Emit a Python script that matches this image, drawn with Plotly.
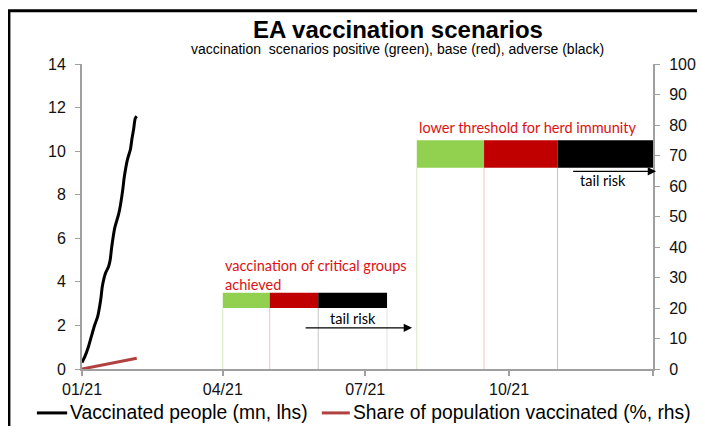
import plotly.graph_objects as go

dates = [
    "2021-01-01", "2021-01-03", "2021-01-05", "2021-01-07", "2021-01-09",
    "2021-01-11", "2021-01-13", "2021-01-14", "2021-01-16", "2021-01-18",
    "2021-01-19", "2021-01-20", "2021-01-22", "2021-01-24", "2021-01-25",
    "2021-01-27", "2021-01-28", "2021-01-30", "2021-02-01", "2021-02-02",
    "2021-02-03", "2021-02-04", "2021-02-05",
]
vaccinated_mn = [
    0.3, 0.6, 1.0, 1.5, 2.0, 2.4, 3.2, 3.8, 4.4, 4.7, 5.0, 5.6, 6.5,
    7.0, 7.3, 8.2, 8.8, 9.6, 10.1, 10.6, 11.0, 11.5, 11.6,
]
share_pct = [
    0.0, 0.2, 0.4, 0.6, 0.8, 1.0, 1.2, 1.3, 1.5, 1.7, 1.8, 1.9, 2.1,
    2.3, 2.4, 2.6, 2.7, 2.9, 3.1, 3.2, 3.3, 3.45, 3.5,
]

# scenario milestones: positive / base / adverse segments
critical_dates = ["2021-04-01", "2021-05-01", "2021-06-01", "2021-07-15"]
critical_band = [20, 25]
herd_dates = ["2021-08-03", "2021-09-15", "2021-11-01", "2022-01-01"]
herd_band = [66, 75]

tick_dates = ["2021-01-01", "2021-04-01", "2021-07-01", "2021-10-01", "2022-01-01"]
tick_labels = ["01/21", "04/21", "07/21", "10/21", ""]

series_names = ["Vaccinated people (mn, lhs)", "Share of population vaccinated (%, rhs)"]

SCENARIO_COLORS = ["#92d050", "#c00000", "#000000"]
DROP_COLORS = ["#d6ebbf", "#eec6c6", "#c4c4c4", "#e2e2e2"]
LINE_COLORS = ["#000000", "#b0413e"]
AXIS_COLOR = "#a0a0a0"
NOTE_RED = "#dd1111"
FONT = "Liberation Sans, Arial, sans-serif"
NOTE_FONT = "Lato, Open Sans, sans-serif"

fig = go.Figure()
fig.add_trace(
    go.Scatter(
        x=dates, y=vaccinated_mn, mode="lines", name=series_names[0],
        line={"color": LINE_COLORS[0], "width": 3, "shape": "spline", "smoothing": 0.6},
    )
)
fig.add_trace(
    go.Scatter(
        x=dates, y=share_pct, mode="lines", name=series_names[1],
        line={"color": LINE_COLORS[1], "width": 3}, yaxis="y2",
    )
)

shapes = []
for seg_dates, band, n_drops in ((critical_dates, critical_band, 4), (herd_dates, herd_band, 3)):
    for i in range(n_drops):
        shapes.append(dict(
            type="line", xref="x", yref="y2", x0=seg_dates[i], x1=seg_dates[i],
            y0=0, y1=band[0], line={"color": DROP_COLORS[i], "width": 1}, layer="below",
        ))
    for i in range(3):
        shapes.append(dict(
            type="rect", xref="x", yref="y2", x0=seg_dates[i], x1=seg_dates[i + 1],
            y0=band[0], y1=band[1], fillcolor=SCENARIO_COLORS[i], line={"width": 0},
        ))

# chart frame (left and top edges)
shapes.append(dict(
    type="path", xref="paper", yref="paper",
    path="M -0.128,-0.3 L -0.128,1.175 L 1.2,1.175",
    line={"color": "#000000", "width": 3},
))

# hand-drawn legend below the plot
legend_rows = [(-0.079, -0.026, -0.0245), (0.420, 0.469, 0.471)]
annotations = []
for (x0, x1, xt), name, color in zip(legend_rows, series_names, LINE_COLORS):
    shapes.append(dict(
        type="line", xref="paper", yref="paper", x0=x0, x1=x1, y0=-0.144, y1=-0.144,
        line={"color": color, "width": 3},
    ))
    annotations.append(dict(
        text=name, xref="paper", yref="paper", x=xt, y=-0.144, xanchor="left",
        yanchor="middle", showarrow=False, font={"size": 19.3, "family": FONT, "color": "#000"},
    ))

annotations += [
    dict(text="<b>EA vaccination scenarios</b>", xref="paper", yref="paper",
         x=0.553, y=1.114, xanchor="center", yanchor="middle", showarrow=False,
         font={"size": 24, "family": FONT, "color": "#000"}),
    dict(text="vaccination  scenarios positive (green), base (red), adverse (black)",
         xref="paper", yref="paper", x=0.553, y=1.048, xanchor="center", yanchor="middle",
         showarrow=False, font={"size": 14, "family": FONT, "color": "#000"}),
    dict(text="vaccination of critical groups<br>achieved", xref="x", yref="y2",
         x="2021-04-01", y=30.8, xanchor="left", yanchor="middle", align="left",
         showarrow=False, font={"size": 14.5, "family": NOTE_FONT, "color": NOTE_RED}),
    dict(text="lower threshold for herd immunity", xref="x", yref="y2",
         x="2021-08-03", y=79.3, xanchor="left", yanchor="middle", showarrow=False,
         font={"size": 14.5, "family": NOTE_FONT, "color": NOTE_RED}),
    dict(text="tail risk", xref="x", yref="y2", x="2021-06-23", y=16.4,
         showarrow=False, font={"size": 14.5, "family": NOTE_FONT, "color": "#000"}),
    dict(text="tail risk", xref="x", yref="y2", x="2021-11-30", y=61.8,
         showarrow=False, font={"size": 14.5, "family": NOTE_FONT, "color": "#000"}),
    dict(text="", xref="x", yref="y2", x="2021-07-31", y=13.5,
         axref="x", ayref="y2", ax="2021-05-23", ay=13.5, showarrow=True,
         arrowhead=2, arrowsize=1.2, arrowwidth=1.4, arrowcolor="#000"),
    dict(text="", xref="x", yref="y2", x="2022-01-03", y=64.8,
         axref="x", ayref="y2", ax="2021-11-10", ay=64.8, showarrow=True,
         arrowhead=2, arrowsize=1.2, arrowwidth=1.4, arrowcolor="#000"),
]

fig.update_layout(
    width=689,
    height=418,
    margin={"l": 74, "r": 44, "t": 56, "b": 57, "autoexpand": False},
    paper_bgcolor="#ffffff",
    plot_bgcolor="#ffffff",
    font={"family": FONT, "size": 16, "color": "#111111"},
    shapes=shapes,
    annotations=annotations,
    showlegend=False,
    xaxis={
        "type": "date", "range": ["2021-01-01", "2022-01-01"], "automargin": False,
        "tickvals": tick_dates, "ticktext": tick_labels,
        "showgrid": False, "zeroline": False, "showline": True,
        "linecolor": AXIS_COLOR, "linewidth": 2, "ticks": "outside",
        "ticklen": 5, "tickcolor": AXIS_COLOR, "tickwidth": 2,
    },
    yaxis={
        "range": [0, 14], "dtick": 2, "showgrid": False, "zeroline": False,
        "automargin": False, "showline": True, "linecolor": AXIS_COLOR, "linewidth": 2,
        "ticks": "outside", "ticklen": 5, "tickcolor": AXIS_COLOR, "tickwidth": 1,
        "ticklabelstandoff": 6,
    },
    yaxis2={
        "range": [0, 100], "dtick": 10, "overlaying": "y", "side": "right",
        "automargin": False, "showgrid": False, "zeroline": False, "showline": True,
        "linecolor": AXIS_COLOR, "linewidth": 2, "ticks": "outside",
        "ticklen": 5, "tickcolor": AXIS_COLOR, "tickwidth": 1,
        "ticklabelstandoff": 6,
    },
)

fig.write_html("out.html")
